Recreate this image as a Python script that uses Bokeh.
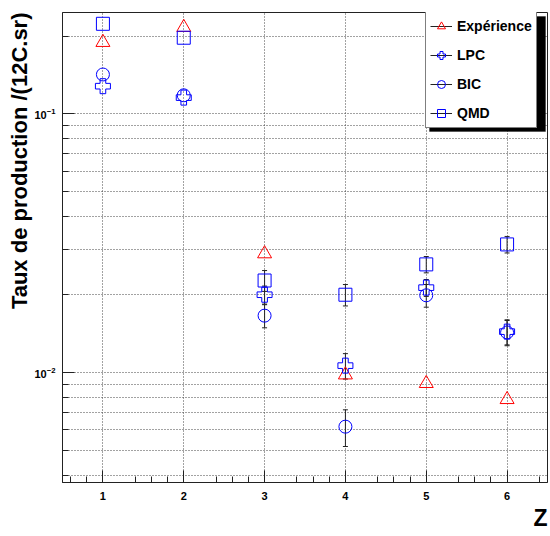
import numpy as np
from bokeh.plotting import figure
from bokeh.models import (Range1d, FixedTicker, LogTickFormatter, Whisker, TeeHead,
                          ColumnDataSource, Legend, LegendItem, Title, BoxAnnotation)
from bokeh.embed import file_html
from bokeh.resources import INLINE

# ---- data ----
z = [1, 2, 3, 4, 5, 6]
experience = [0.189, 0.216, 0.0288, 0.0098, 0.00908, 0.00787]
lpc = [0.128, 0.1156, 0.0200, 0.01064, 0.0213, 0.0144]
lpc_err = [0.0, 0.0, 0.0016, 0.0012, 0.0016, 0.0016]
bic = [0.142, 0.118, 0.0166, 0.00618, 0.0199, 0.0143]
bic_err = [0.0, 0.0, 0.0017, 0.0010, 0.0020, 0.0016]
qmd = [0.223, 0.197, 0.0227, 0.0200, 0.0262, 0.0313]
qmd_err = [0.0, 0.0, 0.0021, 0.0019, 0.0019, 0.0023]

x_ticks = [1, 2, 3, 4, 5, 6]
y_major = [0.01, 0.1]
y_minor = [m * 10.0 ** e for e in (-3, -2, -1) for m in range(2, 10)]
x_minor = [round(0.6 + 0.2 * i, 1) for i in range(30) if (i + 2) % 5 != 0]

FONT = "Liberation Sans"

p = figure(width=550, height=536, y_axis_type="log",
           x_range=Range1d(0.5, 6.5), y_range=Range1d(0.00376, 0.2466),
           output_backend="svg", toolbar_location=None,
           min_border_left=62, min_border_right=3, min_border_top=12, min_border_bottom=54)
p.background_fill_color = "white"
p.border_fill_color = "white"
p.outline_line_color = "#222222"
p.outline_line_width = 1

# axes
p.xaxis.ticker = FixedTicker(ticks=x_ticks, minor_ticks=x_minor)
p.yaxis.ticker = FixedTicker(ticks=y_major, minor_ticks=y_minor)
p.yaxis.formatter = LogTickFormatter()
for ax in (p.xaxis[0], p.yaxis[0]):
    ax.major_tick_in = 12
    ax.major_tick_out = 0
    ax.minor_tick_in = 6
    ax.minor_tick_out = 0
    ax.axis_line_color = "#222222"
    ax.major_tick_line_color = "#222222"
    ax.minor_tick_line_color = "#222222"
    ax.major_label_text_font = FONT
    ax.major_label_text_font_style = "bold"
    ax.major_label_text_font_size = "11px"
    ax.major_label_text_color = "black"
p.xaxis.major_label_standoff = 9
p.yaxis.major_label_standoff = 7

# grids
for g in (p.xgrid[0], p.ygrid[0]):
    g.grid_line_color = "#444444"
    g.grid_line_dash = "1 2"
    g.grid_line_width = 1
p.xgrid.ticker = FixedTicker(ticks=x_ticks)
p.ygrid.ticker = FixedTicker(ticks=y_major, minor_ticks=y_minor)
p.ygrid.minor_grid_line_color = "#444444"
p.ygrid.minor_grid_line_dash = "1 2"

# titles
p.add_layout(Title(text="Taux de production /(12C.sr)", align="right",
                   text_font=FONT, text_font_style="bold", text_font_size="22px",
                   text_color="black", standoff=0, offset=0), "left")
p.add_layout(Title(text="Z", align="right", text_font=FONT, text_font_style="bold",
                   text_font_size="23px", text_color="black", standoff=0), "below")

# error bars (only where visible)
def add_err(vals, errs):
    v = np.array(vals)
    e = np.array(errs)
    m = e > 0
    src = ColumnDataSource(dict(x=np.array(z)[m], upper=(v + e)[m], lower=(v - e)[m]))
    w = Whisker(source=src, base="x", upper="upper", lower="lower",
                line_color="#222222", line_width=1,
                upper_head=TeeHead(size=5, line_color="#222222"),
                lower_head=TeeHead(size=5, line_color="#222222"))
    p.add_layout(w)

add_err(lpc, lpc_err)
add_err(bic, bic_err)
add_err(qmd, qmd_err)

# legend-only line (outside visible range)
leg_line = p.line(x=[-10, -9], y=[1e-6, 1e-6], line_color="#222222", line_width=1)

r_exp = p.scatter(z, experience, marker="triangle", size=14, line_color="red",
                  fill_alpha=0, line_width=1)
r_lpc = p.scatter(z, lpc, marker="plus", size=15, line_color="blue",
                  fill_alpha=0, line_width=1)
r_bic = p.scatter(z, bic, marker="circle", size=13, line_color="blue",
                  fill_alpha=0, line_width=1)
r_qmd = p.scatter(z, qmd, marker="square", size=13, line_color="blue",
                  fill_alpha=0, line_width=1)

# legend shadow
shadow = BoxAnnotation(left=367, right=483, bottom=351, top=466,
                       left_units="screen", right_units="screen",
                       top_units="screen", bottom_units="screen",
                       fill_color="black", fill_alpha=1, line_color="black",
                       level="overlay")
p.add_layout(shadow)

legend = Legend(items=[
    LegendItem(label="Expérience", renderers=[leg_line, r_exp]),
    LegendItem(label="LPC", renderers=[leg_line, r_lpc]),
    LegendItem(label="BIC", renderers=[leg_line, r_bic]),
    LegendItem(label="QMD", renderers=[leg_line, r_qmd]),
], location=(363, 354))
legend.label_text_font = FONT
legend.label_text_font_style = "bold"
legend.label_text_font_size = "14px"
legend.label_text_color = "black"
legend.glyph_width = 22
legend.glyph_height = 20
legend.label_height = 20
legend.spacing = 9
legend.padding = 4
legend.margin = 0
legend.label_standoff = 5
legend.border_line_color = "black"
legend.border_line_width = 1
legend.background_fill_color = "white"
legend.background_fill_alpha = 1
p.add_layout(legend, "center")

open("out.html", "w").write(file_html(p, INLINE))
